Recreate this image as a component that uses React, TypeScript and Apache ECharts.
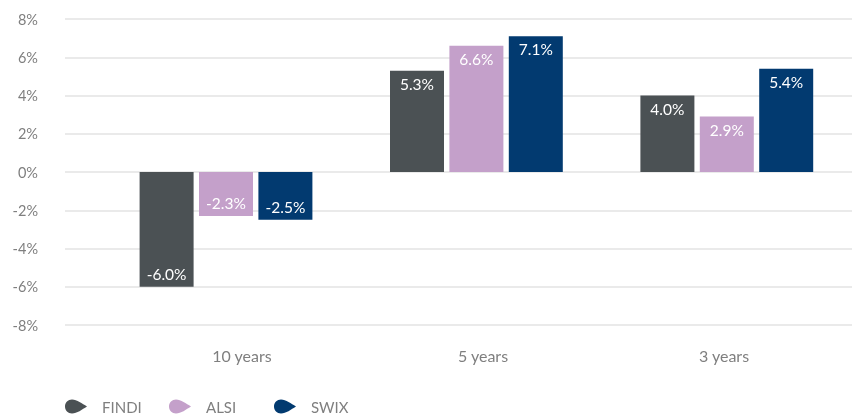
import React, { useEffect, useRef } from "react";
import * as echarts from "echarts";

const categories = ["10 years", "5 years", "3 years"];
const seriesNames = ["FINDI", "ALSI", "SWIX"];
const findi = [-6.0, 5.3, 4.0];
const alsi = [-2.3, 6.6, 2.9];
const swix = [-2.5, 7.1, 5.4];
const colors = ["#4b5154", "#c4a0ca", "#023a70"];

const FONT = "Lato, 'Open Sans', sans-serif";
const ICON = "path://M7,0 C3,0 0,3 0,7 C0,11 3,14 7,14 C12,14 17,10 22,7 C17,4 12,0 7,0 Z";
const legendLefts = [65, 169, 274];

export default function App() {
  const ref = useRef<HTMLDivElement>(null);
  useEffect(() => {
    if (!ref.current) return;
    const chart = echarts.init(ref.current, null, { renderer: "svg" });
    const values = [findi, alsi, swix];
    const gridTop = 19;
    const gridBottom = 89;
    const yBase = { min: -8, max: 8, interval: 2 };
    chart.setOption({
      animation: false,
      textStyle: { fontFamily: FONT },
      legend: seriesNames.map((name, i) => ({
        left: legendLefts[i],
        top: 399,
        padding: 0,
        itemWidth: 22,
        itemHeight: 14,
        icon: ICON,
        data: [name],
        textStyle: { color: "#7f7f7f", fontSize: 15, fontFamily: FONT, padding: [0, 0, 0, 10] },
      })),
      grid: [
        { left: 65, right: 0, top: gridTop, bottom: gridBottom },
        { left: 121.5, width: 723, top: gridTop, bottom: gridBottom },
        { left: 100.8, width: 759.75, top: gridTop, bottom: gridBottom },
      ],
      xAxis: [
        { gridIndex: 0, type: "category", data: categories, show: false },
        {
          gridIndex: 1,
          type: "category",
          data: categories,
          axisLine: { show: false },
          axisTick: { show: false },
          axisLabel: { color: "#7f7f7f", fontSize: 16, fontFamily: FONT, margin: 22 },
        },
        { gridIndex: 2, type: "category", data: categories, show: false },
      ],
      yAxis: [
        {
          gridIndex: 0,
          type: "value",
          ...yBase,
          axisLine: { show: false },
          axisTick: { show: false },
          axisLabel: { color: "#7f7f7f", fontSize: 14.5, fontFamily: FONT, margin: 27, formatter: "{value}%" },
          splitLine: { lineStyle: { color: "#e3e3e3", width: 1.5 } },
        },
        { gridIndex: 1, type: "value", ...yBase, show: false, splitLine: { show: false } },
        { gridIndex: 2, type: "value", ...yBase, show: false, splitLine: { show: false } },
      ],
      series: seriesNames.map((name, i) => ({
        name,
        type: "bar",
        xAxisIndex: 2,
        yAxisIndex: 2,
        barWidth: 54,
        barGap: "10%",
        itemStyle: { color: colors[i] },
        data: values[i].map((v) => ({
          value: v,
          label: { position: v < 0 ? "insideBottom" : "insideTop" },
        })),
        label: {
          show: true,
          distance: 5,
          color: "#ffffff",
          fontSize: 15.5,
          fontFamily: FONT,
          formatter: (p: any) => Number(p.value).toFixed(1) + "%",
        },
      })),
    });
    return () => chart.dispose();
  }, []);
  return <div ref={ref} style={{ position: "fixed", left: 0, top: 0, width: 852, height: 414 }} />;
}
